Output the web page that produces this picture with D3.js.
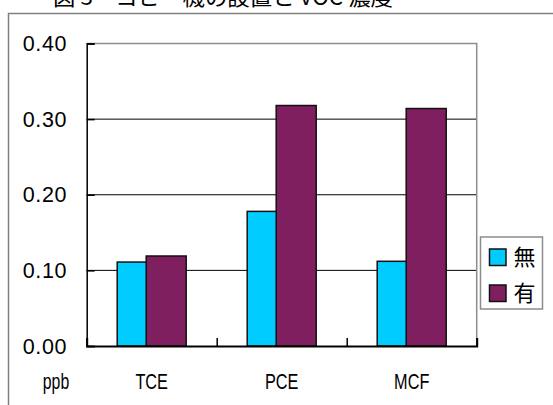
<!DOCTYPE html>
<meta charset='utf-8'>
<html>
  <style>
    body { margin: 0; background: #fff; }
    text { font-family: "Liberation Sans", Arial, sans-serif; fill: #000; }
    .cjk { font-family: "Noto Sans CJK JP", sans-serif; }
  </style>
  <head>
    <script src="https://cdn.jsdelivr.net/npm/d3@7/dist/d3.min.js"></script>
  </head>
  <body>
    <div id="chart"></div>
    <script type="text/javascript">
      var categories = ['TCE', 'PCE', 'MCF'],
        seriesNames = ['無', '有'],
        valuesNone = [0.111, 0.178, 0.112],
        valuesWith = [0.119, 0.318, 0.314],
        yTicks = [0.00, 0.10, 0.20, 0.30, 0.40],
        colors = ['#00ccff', '#7f1f5f'],
        titleText = '図 3　コピー機の設置と VOC 濃度',
        unitText = 'ppb';

      var W = 553, H = 405,
        plot = {left: 86.7, right: 476.7, top: 43.5, bottom: 346};

      var svg = d3.select('#chart').append('svg')
        .attr('width', W)
        .attr('height', H);

      // outer chart frame
      svg.append('rect')
        .attr('x', 8.5).attr('y', 13.5)
        .attr('width', W).attr('height', H)
        .attr('fill', 'none').attr('stroke', '#808080').attr('stroke-width', 1.5);

      svg.append('text')
        .attr('class', 'cjk')
        .attr('x', 53).attr('y', 5)
        .attr('font-size', 22)
        .attr('textLength', 340)
        .attr('lengthAdjust', 'spacingAndGlyphs')
        .text(titleText);

      var x = d3.scaleBand().domain(categories).range([plot.left, plot.right]).padding(0);
      var y = d3.scaleLinear().domain([0, 0.4]).range([plot.bottom, plot.top]);

      var bw = x.bandwidth(),
        barW = bw * 40 / 130,
        step = bw * 29 / 130,
        pad = (bw - barW - step) / 2;

      // gridlines
      svg.append('g').selectAll('line')
        .data(yTicks.filter(function(d){ return d > 0 && d < 0.4; }))
        .enter().append('line')
          .attr('x1', plot.left).attr('x2', plot.right)
          .attr('y1', function(d){ return y(d); })
          .attr('y2', function(d){ return y(d); })
          .attr('stroke', '#000').attr('stroke-width', 1);

      // plot area top/right border (gray)
      svg.append('path')
        .attr('d', 'M' + plot.left + ',' + plot.top + 'H' + plot.right + 'V' + plot.bottom)
        .attr('fill', 'none').attr('stroke', '#8c8c8c').attr('stroke-width', 1.5);

      // bars
      var series = [valuesNone, valuesWith];
      series.forEach(function(vals, si){
        svg.append('g').selectAll('rect')
          .data(vals)
          .enter().append('rect')
            .attr('x', function(d, i){ return x(categories[i]) + pad + si * step; })
            .attr('y', function(d){ return y(d); })
            .attr('width', barW)
            .attr('height', function(d){ return y(0) - y(d); })
            .attr('fill', colors[si])
            .attr('stroke', '#111')
            .attr('stroke-width', 1.5);
      });

      // y axis
      var yAxis = d3.axisRight(y).tickValues(yTicks).tickSize(8).tickFormat('');
      var ya = svg.append('g')
        .attr('transform', 'translate(' + plot.left + ',0)')
        .call(yAxis);
      ya.select('.domain').attr('stroke', '#000').attr('stroke-width', 1.5);
      ya.selectAll('.tick line').attr('stroke', '#000').attr('stroke-width', 1.5);

      svg.append('g').selectAll('text')
        .data(yTicks)
        .enter().append('text')
          .attr('x', 67)
          .attr('y', function(d){ return y(d); })
          .attr('dy', '0.36em')
          .attr('text-anchor', 'end')
          .attr('font-size', 21.5)
          .attr('letter-spacing', 0.6)
          .text(function(d){ return d3.format('.2f')(d); });

      // x axis
      var xTicks = d3.scaleLinear().domain([0, categories.length]).range([plot.left, plot.right]);
      var xAxis = d3.axisTop(xTicks).ticks(categories.length).tickSize(8).tickFormat('');
      var xa = svg.append('g')
        .attr('transform', 'translate(0,' + plot.bottom + ')')
        .call(xAxis);
      xa.select('.domain').attr('stroke', '#000').attr('stroke-width', 2);
      xa.selectAll('.tick line').attr('stroke', '#000').attr('stroke-width', 1.5);

      svg.append('g').selectAll('text')
        .data(categories)
        .enter().append('text')
          .attr('transform', function(d){
            return 'translate(' + (x(d) + bw / 2) + ',389) scale(0.74,1)'; })
          .attr('text-anchor', 'middle')
          .attr('font-size', 22)
          .text(function(d){ return d; });

      svg.append('text')
        .attr('transform', 'translate(56,389) scale(0.72,1)')
        .attr('text-anchor', 'middle')
        .attr('font-size', 22)
        .text(unitText);

      // legend
      var lg = svg.append('g').attr('transform', 'translate(480.5,237)');
      lg.append('rect')
        .attr('width', 62).attr('height', 72)
        .attr('fill', '#fff').attr('stroke', '#8c8c8c').attr('stroke-width', 1.5);
      var items = lg.selectAll('.item')
        .data(seriesNames)
        .enter().append('g')
          .attr('class', 'item')
          .attr('transform', function(d, i){ return 'translate(0,' + (12 + i * 36) + ')'; });
      items.append('rect')
        .attr('x', 9).attr('width', 16.5).attr('height', 16.5)
        .attr('fill', function(d, i){ return colors[i]; })
        .attr('stroke', '#111').attr('stroke-width', 1.5);
      items.append('text')
        .attr('class', 'cjk')
        .attr('x', 33).attr('y', 8.5)
        .attr('dy', '0.36em')
        .attr('font-size', 22)
        .text(function(d){ return d; });
    </script>
  </body>
</html>
